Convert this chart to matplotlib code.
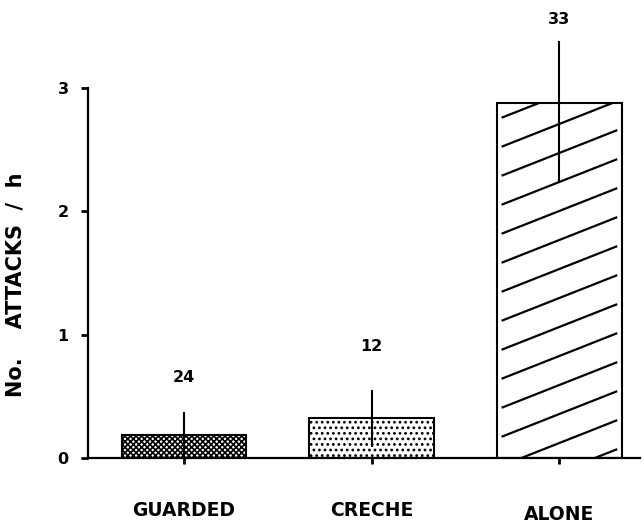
import numpy as np
import matplotlib.pyplot as plt
from matplotlib.lines import Line2D

plt.rcParams['font.family'] = ['DejaVu Sans']
plt.rcParams['font.weight'] = 'bold'
plt.rcParams['hatch.linewidth'] = 1.2

# data
groups = ['GUARDED', 'CRECHE', 'ALONE']
attacks = [0.19, 0.32, 2.88]
err_lo = [0.18, 0.23, 0.64]
err_hi = [0.18, 0.23, 0.50]
n_obs = ['24', '12', '33']

fig = plt.figure(figsize=(6.44, 5.24), dpi=100)
ax = fig.add_axes([0.137, 0.126, 0.857, 0.855])

x = np.arange(len(groups))
w = 0.665
hatches = ['xxxxxx', '...', '']
bars = ax.bar(x, attacks, width=w, color='white', edgecolor='black', linewidth=1.5,
              hatch=hatches, zorder=2)

# shallow diagonal hatching on the ALONE bar (matplotlib hatch is 45 deg only)
b = bars[2]
x0, x1 = b.get_x(), b.get_x() + b.get_width()
slope = 0.60
for c in np.arange(-1.0, attacks[2] + 0.2, 0.235):
    ln = Line2D([x0 + 0.03, x1 - 0.03], [c, c + slope * (x1 - x0 - 0.06)],
                color='black', lw=1.6, zorder=2.5)
    ax.add_line(ln)
    ln.set_clip_path(b)

ax.errorbar(x, attacks, yerr=[err_lo, err_hi], fmt='none', ecolor='black',
            elinewidth=1.5, capsize=0, zorder=3)

label_y = [0.65, 0.90, 3.55]
for xi, t, yy in zip(x, n_obs, label_y):
    ax.text(xi, yy, t, ha='center', va='center', fontsize=11.5, fontweight='bold')

ax.set_xlim(-0.51, 2.43)
ax.set_ylim(0, 3.63)
ax.spines['top'].set_visible(False)
ax.spines['right'].set_visible(False)
ax.spines['left'].set_bounds(0, 3)
ax.spines['left'].set_linewidth(1.6)
ax.spines['bottom'].set_linewidth(1.6)

ax.set_yticks([0, 1, 2, 3])
ax.set_yticklabels(['0', '1', '2', '3'], fontsize=11.5, fontweight='bold')
ax.set_xticks(x)
ax.set_xticklabels(groups, fontsize=13.5, fontweight='bold')
for lab in ax.get_xticklabels()[2:]:
    lab.set_y(-0.008)
ax.tick_params(axis='y', length=5, width=2, pad=9)
ax.tick_params(axis='x', length=4, width=2, pad=27)

ax.set_ylabel('No.    ATTACKS  /  h', fontsize=15, fontweight='bold')
ax.yaxis.set_label_coords(-0.113, 1.4 / 3.63)

fig.savefig('out.png', dpi=100)
